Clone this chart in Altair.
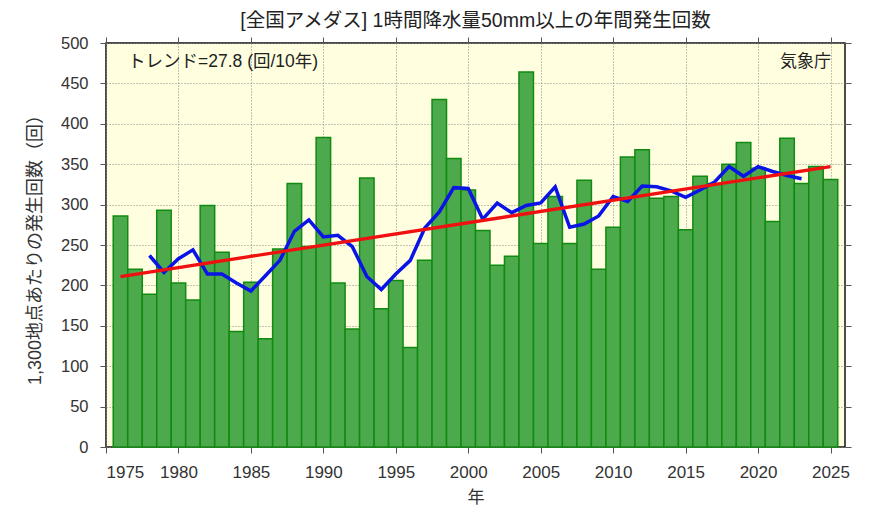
import altair as alt
import pandas as pd

years = list(range(1976, 2026))
counts = [286, 220, 189, 293, 203, 182, 299, 241, 143, 204,
          134, 245, 326, 248, 383, 203, 146, 333, 171, 206,
          123, 231, 430, 357, 318, 268, 225, 236, 464, 252,
          310, 252, 330, 220, 272, 359, 368, 308, 310, 269,
          335, 326, 350, 377, 345, 279, 382, 326, 347, 331]

ma_years = list(range(1978, 2024))
ma_values = [237, 216, 233, 244, 214, 214, 203, 193, 212, 231,
             267, 281, 260, 262, 248, 211, 195, 214, 231, 271,
             291, 321, 320, 282, 302, 290, 299, 302, 322, 272,
             276, 286, 310, 304, 323, 322, 317, 309, 318, 328,
             347, 335, 347, 341, 336, 332]

trend_years = [1976, 2025]
trend_values = [211, 347]

x_ticks = list(range(1975, 2030, 5))
y_ticks = list(range(0, 550, 50))

FONT = "Liberation Sans, Noto Sans CJK JP, sans-serif"

bars_df = pd.DataFrame({"year": years, "count": counts})
ma_df = pd.DataFrame({"year": ma_years, "value": ma_values})
trend_df = pd.DataFrame({"year": trend_years, "value": trend_values})

xscale = alt.Scale(domain=[1975, 2026], nice=False, zero=False)
yscale = alt.Scale(domain=[0, 500], nice=False)

x_axis = alt.Axis(values=x_ticks, format="d", title="年", grid=True,
                  gridDash=[1, 2], gridColor="#888888", gridWidth=1,
                  tickColor="#555555", tickSize=6, domain=False,
                  labelFontSize=17, labelColor="#333333", labelPadding=11,
                  titleFontSize=17, titleColor="#333333", titleFontWeight="normal",
                  titlePadding=9, labelFont=FONT, titleFont=FONT)
y_axis = alt.Axis(values=y_ticks, title="1,300地点あたりの発生回数（回）", grid=True,
                  gridDash=[1, 2], gridColor="#888888", gridWidth=1,
                  tickColor="#555555", tickSize=6, domain=False,
                  labelFontSize=16.5, labelColor="#333333", labelPadding=12,
                  titleFontSize=18, titleColor="#333333", titleFontWeight="normal",
                  titlePadding=16, labelFont=FONT, titleFont=FONT)

bars = alt.Chart(bars_df).transform_calculate(
    x0="datum.year - 0.5", x1="datum.year + 0.5"
).mark_bar(fill="#4CAA4C", stroke="#118A11", strokeWidth=1.5).encode(
    x=alt.X("x0:Q", scale=xscale, axis=x_axis),
    x2="x1:Q",
    y=alt.Y("count:Q", scale=yscale, axis=y_axis),
    y2=alt.datum(0),
)

ma_line = alt.Chart(ma_df).mark_line(color="#0A14E6", strokeWidth=3.5).encode(
    x=alt.X("year:Q", scale=xscale, axis=None),
    y=alt.Y("value:Q", scale=yscale, axis=None),
)

trend_line = alt.Chart(trend_df).mark_line(color="#F01010", strokeWidth=3.3).encode(
    x=alt.X("year:Q", scale=xscale, axis=None),
    y=alt.Y("value:Q", scale=yscale, axis=None),
)

mirror = alt.Chart(trend_df).mark_point(opacity=0).encode(
    x=alt.X("year:Q", scale=xscale,
            axis=alt.Axis(orient="top", values=x_ticks, labels=False, title=None,
                          grid=False, domain=False, tickColor="#555555", tickSize=6)),
    y=alt.Y("value:Q", scale=yscale,
            axis=alt.Axis(orient="right", values=y_ticks, labels=False, title=None,
                          grid=False, domain=False, tickColor="#555555", tickSize=6)),
)

ann_df = pd.DataFrame({"t": ["トレンド=27.8 (回/10年)"]})
trend_text = alt.Chart(ann_df).mark_text(
    align="left", baseline="middle", fontSize=17.5, font=FONT, color="#222222"
).encode(x=alt.value(22), y=alt.value(19), text="t:N")

jma_df = pd.DataFrame({"t": ["気象庁"]})
jma_text = alt.Chart(jma_df).mark_text(
    align="right", baseline="middle", fontSize=17, font=FONT, color="#222222"
).encode(x=alt.value(725), y=alt.value(19), text="t:N")

chart = alt.layer(bars, ma_line, trend_line, mirror, trend_text, jma_text).resolve_axis(
    x="independent", y="independent"
).properties(
    width=739, height=404,
    title=alt.TitleParams("[全国アメダス] 1時間降水量50mm以上の年間発生回数",
                          fontSize=19.5, font=FONT, fontWeight="normal",
                          color="#222222", anchor="middle", offset=4),
    autosize=alt.AutoSizeParams(type="none"),
    padding={"left": 98, "top": 35, "right": 20, "bottom": 66},
).configure_view(
    fill="#FFFFE0", stroke="#111111", strokeWidth=1.5
)

chart.save("out.html", embed_options={"renderer": "svg", "actions": False})
